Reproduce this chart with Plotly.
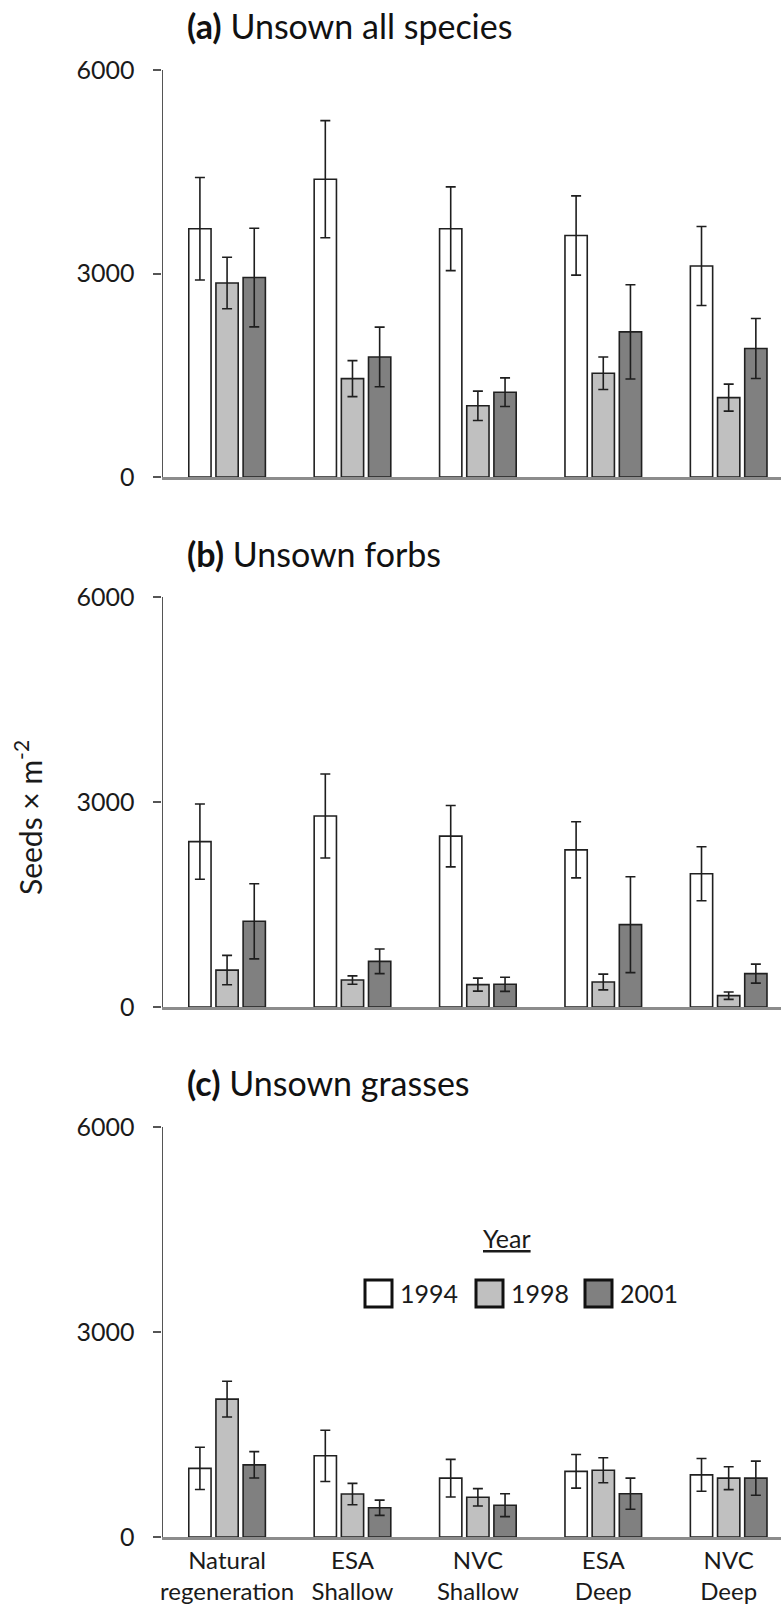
import plotly.graph_objects as go

# ---------------- data ----------------
categories = ["Natural<br>regeneration", "ESA<br>Shallow", "NVC<br>Shallow", "ESA<br>Deep", "NVC<br>Deep"]
years = ["1994", "1998", "2001"]

# (a) Unsown all species
a_1994 = [3660, 4390, 3660, 3560, 3110]
a_1994_err = [756, 864, 617, 584, 582]
a_1998 = [2860, 1450, 1050, 1530, 1170]
a_1998_err = [380, 265, 216, 240, 199]
a_2001 = [2940, 1770, 1250, 2140, 1895]
a_2001_err = [727, 440, 211, 695, 442]

# (b) Unsown forbs
b_1994 = [2420, 2795, 2500, 2300, 1950]
b_1994_err = [551, 615, 449, 410, 395]
b_1998 = [540, 395, 327, 366, 166]
b_1998_err = [215, 61, 95, 115, 54]
b_2001 = [1254, 668, 332, 1205, 488]
b_2001_err = [549, 180, 103, 702, 139]

# (c) Unsown grasses
c_1994 = [1004, 1188, 861, 961, 909]
c_1994_err = [309, 375, 275, 246, 240]
c_1998 = [2018, 629, 581, 977, 861]
c_1998_err = [262, 156, 127, 182, 167]
c_2001 = [1056, 428, 465, 634, 861]
c_2001_err = [193, 111, 167, 227, 250]

panel_titles = ["<b>(a)</b> Unsown all species", "<b>(b)</b> Unsown forbs", "<b>(c)</b> Unsown grasses"]
y_ticks = [0, 3000, 6000]
y_title = "Seeds × m<sup>-2</sup>"
legend_title = "<u>Year</u>"

colors = ["#FFFFFF", "#C0C0C0", "#808080"]
FONT = "Lato"
W, H = 781, 1606

panels = [
    [(a_1994, a_1994_err), (a_1998, a_1998_err), (a_2001, a_2001_err)],
    [(b_1994, b_1994_err), (b_1998, b_1998_err), (b_2001, b_2001_err)],
    [(c_1994, c_1994_err), (c_1998, c_1998_err), (c_2001, c_2001_err)],
]

# pixel geometry of each panel (top = 6000, bottom = 0)
panel_px = [(70, 477), (597, 1007), (1127, 1537)]
title_px = [26, 553, 1082]
axis_x_px = 162.5

fig = go.Figure()
for p, series in enumerate(panels):
    xa = "x" if p == 0 else f"x{p+1}"
    ya = "y" if p == 0 else f"y{p+1}"
    for k, (vals, errs) in enumerate(series):
        fig.add_trace(go.Bar(
            x=categories, y=vals, name=years[k],
            marker=dict(color=colors[k], line=dict(color="#202020", width=1.6)),
            error_y=dict(type="data", array=errs, visible=True,
                         color="#1e1e1e", thickness=1.6, width=5),
            xaxis=xa, yaxis=ya, showlegend=False, offsetgroup=str(k),
        ))

layout = dict(
    width=W, height=H,
    paper_bgcolor="white", plot_bgcolor="white",
    margin=dict(l=0, r=0, t=0, b=0),
    barmode="group", bargap=0.35, bargroupgap=0.18,
    font=dict(family=FONT, color="#1a1a1a"),
    showlegend=False,
)

x0 = axis_x_px / W
cat_w = 125.4
shift = 0.015
xmin = -0.5 - shift
xmax = -0.5 + (W - axis_x_px) / cat_w - shift
for p in range(3):
    top, bot = panel_px[p]
    xs = "xaxis" if p == 0 else f"xaxis{p+1}"
    ys = "yaxis" if p == 0 else f"yaxis{p+1}"
    layout[xs] = dict(
        domain=[x0, 1], range=[xmin, xmax],
        anchor="y" if p == 0 else f"y{p+1}",
        showline=True, linecolor="#8c8c8c", linewidth=3,
        showgrid=False, zeroline=False, ticks="",
        showticklabels=(p == 2),
        tickfont=dict(family=FONT, size=24, color="#1a1a1a"),
        automargin=False,
    )
    layout[ys] = dict(
        domain=[1 - bot / H, 1 - top / H], range=[0, 6000],
        anchor="x" if p == 0 else f"x{p+1}",
        tickvals=y_ticks, ticktext=[str(v) for v in y_ticks],
        ticks="outside", ticklen=8, tickwidth=1.5, tickcolor="#555555",
        showline=True, linecolor="#555555", linewidth=1.2,
        showgrid=False, zeroline=False,
        tickfont=dict(family=FONT, size=25, color="#1a1a1a"),
        ticklabelstandoff=14,
        automargin=False,
    )

fig.update_layout(**layout)

# panel titles
for p in range(3):
    fig.add_annotation(
        text=panel_titles[p], xref="paper", yref="paper",
        x=185 / W, y=1 - title_px[p] / H, xanchor="left", yanchor="middle",
        showarrow=False, font=dict(family=FONT, size=34, color="#111111"),
    )

# y-axis title
fig.add_annotation(
    text=y_title, xref="paper", yref="paper",
    x=28 / W, y=1 - 818 / H, xanchor="center", yanchor="middle",
    textangle=-90, showarrow=False,
    font=dict(family=FONT, size=30, color="#1a1a1a"),
)

# manual legend in panel (c)
fig.add_annotation(
    text=legend_title, xref="paper", yref="paper",
    x=507 / W, y=1 - 1238 / H, xanchor="center", yanchor="middle",
    showarrow=False, font=dict(family=FONT, size=25, color="#1a1a1a"),
)
box_left = [365, 476, 585]
for k in range(3):
    L = box_left[k]
    fig.add_shape(
        type="rect", xref="paper", yref="paper",
        x0=L / W, x1=(L + 27) / W, y0=1 - 1307 / H, y1=1 - 1280 / H,
        fillcolor=colors[k], line=dict(color="#111111", width=3),
    )
    fig.add_annotation(
        text=years[k], xref="paper", yref="paper",
        x=(L + 33) / W, y=1 - 1293 / H, xanchor="left", yanchor="middle",
        showarrow=False, font=dict(family=FONT, size=25, color="#1a1a1a"),
    )

fig.write_html(
    "out.html",
    config={"displayModeBar": False},
    post_script="document.body.style.margin='0px';document.body.style.overflow='hidden';",
)
